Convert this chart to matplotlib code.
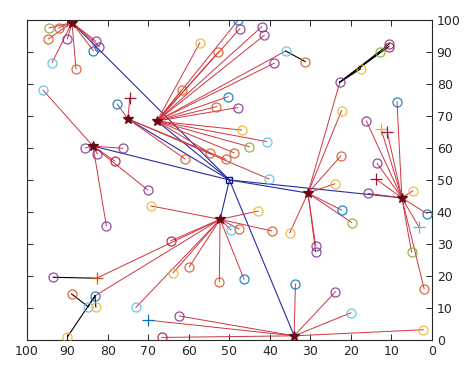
import numpy as np
import matplotlib
matplotlib.use("Agg")
import matplotlib.pyplot as plt

# colour codes used for the sensor nodes (MATLAB style colour order)
palette = {'b': '#0072BD', 'o': '#D95319', 'y': '#EDB120', 'p': '#7E2F8E',
           'g': '#77AC30', 'l': '#4DBEEE', 'r': '#A2142F'}

# sink (base station)
sink_x = 50.0
sink_y = 50.0

# cluster heads
ch_x = [88.9, 75.1, 67.9, 83.7, 52.3, 30.6, 7.4, 34.0]
ch_y = [99.2, 69.1, 68.4, 60.6, 37.7, 45.9, 44.4, 1.3]

# member nodes: position, cluster head index, colour code
node_x = [94.6, 92.2, 94.7, 90.0, 83.0, 82.1, 83.6, 93.8, 87.9,
          77.7, 61.0, 50.9, 40.2,
          47.8, 47.4, 42.0, 41.4, 57.3, 52.7, 38.9, 36.1, 61.8, 50.3, 53.2, 48.0, 47.0, 40.8, 45.1, 48.9, 54.7,
          96.0, 85.6, 82.6, 76.4, 78.3, 70.2, 80.4,
          69.4, 64.5, 59.9, 63.9, 73.1, 83.2, 42.9, 47.6, 39.6, 49.6, 46.4, 52.5,
          22.7, 22.3, 22.5, 24.0, 22.3, 19.8, 35.1, 28.7, 28.7,
          8.6, 16.2, 13.5, 15.7, 4.7, 1.2, 5.0, 1.9,
          33.7, 23.8, 20.0, 2.1, 62.4, 66.7]
node_y = [97.5, 97.5, 94.1, 94.1, 93.4, 91.7, 90.4, 86.7, 84.7,
          73.7, 56.6, 56.5, 50.3,
          100.0, 97.3, 97.9, 95.2, 92.9, 90.0, 86.5, 90.3, 78.1, 76.0, 72.9, 72.6, 65.6, 62.0, 60.4, 58.5, 58.3,
          78.0, 60.0, 58.1, 59.9, 55.9, 46.9, 35.7,
          41.9, 31.0, 22.9, 21.0, 10.2, 13.8, 40.3, 34.7, 34.1, 34.4, 19.0, 18.2,
          80.6, 71.7, 57.5, 48.8, 40.6, 36.7, 33.5, 29.5, 27.6,
          74.5, 68.5, 55.2, 45.8, 46.6, 39.5, 27.4, 16.0,
          17.5, 15.1, 8.5, 3.2, 7.5, 0.8]
node_head = [0] * 9 + [1] * 4 + [2] * 17 + [3] * 7 + [4] * 12 + [5] * 9 + [6] * 8 + [7] * 6
node_col = list('goopppblo' + 'bool' + 'bpppyoplobopylgoo' + 'lppprpp' +
                'yroylbyoolbo' + 'pyoybgypp' + 'bpppybgo' + 'bplypr')

# nodes marked with '+': position, cluster head index, colour code
plus_x = [74.6, 82.8, 12.5, 11.0, 13.8, 3.1, 70.0]
plus_y = [75.7, 19.3, 65.8, 65.0, 50.3, 35.2, 6.2]
plus_head = [1, 4, 6, 6, 6, 6, 7]
plus_col = list('royrrlb')

# multi-hop relay nodes (black links): position, colour, and the node they forward to
relay_x = [31.3, 10.5, 10.6, 12.7, 17.6, 93.5, 89.0, 84.9, 83.0, 90.0]
relay_y = [87.0, 92.5, 91.7, 89.9, 84.7, 19.6, 14.4, 10.4, 10.3, 1.0]
relay_col = list('oprgypolyy')
relay_to_x = [36.1, 22.7, 22.7, 22.7, 22.7, 82.8, 84.9, 83.2, 83.2, 83.2]
relay_to_y = [90.3, 80.6, 80.6, 80.6, 80.6, 19.3, 10.4, 13.8, 13.8, 13.8]

fig = plt.figure(figsize=(4.74, 3.67), dpi=100)
ax = fig.add_axes([0.057, 0.0736, 0.854, 0.872])

red = '#d0343e'
blue = '#2a2aa8'

# cluster head -> sink
for x, y in zip(ch_x, ch_y):
    ax.plot([x, sink_x], [y, sink_y], color=blue, lw=0.8, zorder=2)

# member -> cluster head
for x, y, h in zip(node_x, node_y, node_head):
    ax.plot([x, ch_x[h]], [y, ch_y[h]], color=red, lw=0.7, zorder=2)
for x, y, h in zip(plus_x, plus_y, plus_head):
    ax.plot([x, ch_x[h]], [y, ch_y[h]], color=red, lw=0.7, zorder=2)

# relay links
for x0, y0, x1, y1 in zip(relay_x, relay_y, relay_to_x, relay_to_y):
    ax.plot([x0, x1], [y0, y1], color='black', lw=0.8, zorder=2)

for x, y, c in zip(node_x + relay_x, node_y + relay_y, node_col + relay_col):
    ax.plot(x, y, 'o', mfc='none', mec=palette[c], ms=6.5, mew=0.9, alpha=0.85, zorder=3)
for x, y, c in zip(plus_x, plus_y, plus_col):
    ax.plot(x, y, '+', color=palette[c], ms=8, mew=0.9, zorder=3)

ax.plot(ch_x, ch_y, '*', color='#6a0a14', ms=7, mew=0.9, ls='none', zorder=4)
ax.plot(sink_x, sink_y, 's', mfc='none', mec='#10108a', ms=4, mew=1.0, zorder=4)

ax.set_xlim(0, 100)
ax.set_ylim(0, 100)
ax.invert_xaxis()
ax.set_xticks(np.arange(0, 101, 10))
ax.set_yticks(np.arange(0, 101, 10))
ax.yaxis.tick_right()
ax.tick_params(direction='in', length=4, width=0.7, labelsize=9, colors='#262626',
               top=True, bottom=True, left=True, right=True)
for s in ax.spines.values():
    s.set_linewidth(0.8)
    s.set_color('#262626')

fig.savefig('out.png', dpi=100)
